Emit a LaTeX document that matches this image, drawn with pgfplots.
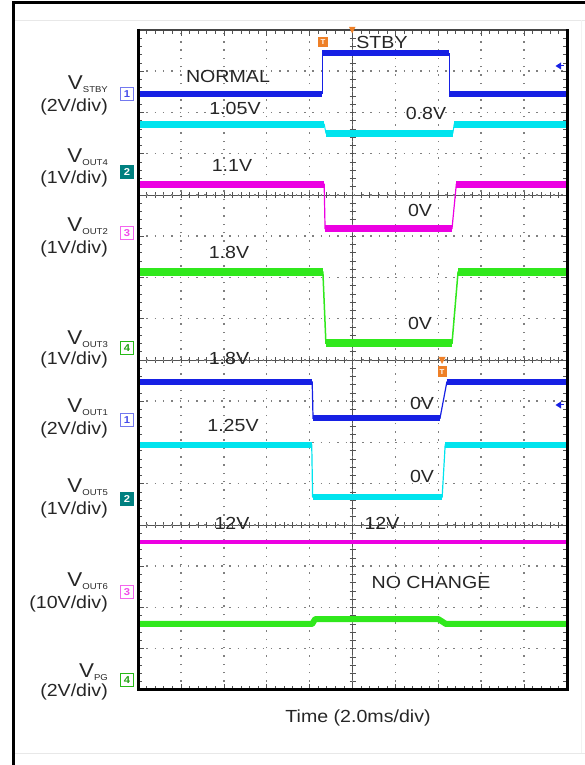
\documentclass[border=0pt]{standalone}
\usepackage{pgfplots}
\pgfplotsset{compat=1.18}
\usepackage{fontspec}
\setmainfont{Liberation Sans}[FakeStretch=1.12]
\definecolor{tblue}{RGB}{22,32,228}
\definecolor{tcyan}{RGB}{0,228,238}
\definecolor{tmag}{RGB}{236,0,226}
\definecolor{tgreen}{RGB}{48,232,28}
\definecolor{tteal}{RGB}{0,128,128}
\definecolor{torange}{RGB}{238,128,40}
\definecolor{txt}{RGB}{38,38,38}
\newcommand{\lab}[1]{{\fontsize{17.5}{20}\selectfont #1}}
\newcommand{\vlab}[1]{{\fontsize{20}{22}\selectfont V}\raisebox{-2.5pt}{\fontsize{8.5}{9}\selectfont #1}}
\begin{document}
\begin{tikzpicture}[x=1pt,y=1pt]
\useasboundingbox (0,0) rectangle (585,765);
% outer page frame
\draw[gray!18, line width=0.8pt] (14,745) -- (585,745);
\draw[gray!18, line width=0.8pt] (14,12) -- (585,12);
\draw[gray!10, line width=0.8pt] (581,12) -- (581,745);
\draw[black, line width=3pt] (13,0) -- (13,762) -- (585,762);
% centre lines of the graticule
\begin{scope}[gray!65!black, line width=0.6pt]
\foreach \yy in {240,405,570} {
  \draw (138,\yy) -- (567,\yy);
  \foreach \k in {1,...,49} { \draw (138+8.58*\k,\yy-3) -- (138+8.58*\k,\yy+3); }
}
\draw (352.5,75) -- (352.5,735);
\foreach \k in {1,...,79} { \draw (349.5,75+8.25*\k) -- (355.5,75+8.25*\k); }
\end{scope}
\begin{axis}[
  at={(138pt,75pt)}, anchor=south west,
  scale only axis, width=429pt, height=660pt,
  xmin=0, xmax=10, ymin=0, ymax=16,
  xtick={0,...,10}, ytick={0,...,16},
  minor x tick num=4, minor y tick num=4,
  xticklabels={}, yticklabels={},
  tick align=inside,
  major tick length=6pt, minor tick length=4pt,
  tick style={gray!65!black, line width=0.6pt},
  grid=major,
  major grid style={gray, line width=1.5pt, dash pattern=on 1.5pt off 6.8pt},
  axis line style={draw=none},
  unbounded coords=jump,
  clip=false,
]
% V_STBY (blue)
\addplot[tblue, line width=1pt] coordinates {(0,14.45) (4.29,14.45) (4.29,15.44) (7.25,15.44) (7.25,14.45) (10,14.45)};
\addplot[tblue, line width=6pt] coordinates {(0,14.45) (4.29,14.45) (4.29,nan) (4.29,15.44) (7.25,15.44) (7.25,nan) (7.25,14.45) (10,14.45)};
% V_OUT4 (cyan)
\addplot[tcyan, line width=1pt] coordinates {(0,13.72) (4.34,13.72) (4.38,13.50) (7.34,13.50) (7.37,13.72) (10,13.72)};
\addplot[tcyan, line width=7pt] coordinates {(0,13.72) (4.34,13.72) (4.36,nan) (4.38,13.50) (7.34,13.50) (7.35,nan) (7.37,13.72) (10,13.72)};
% V_OUT2 (magenta)
\addplot[tmag, line width=1.2pt] coordinates {(0,12.26) (4.34,12.26) (4.36,11.19) (7.32,11.19) (7.42,12.26) (10,12.26)};
\addplot[tmag, line width=7pt] coordinates {(0,12.26) (4.34,12.26) (4.35,nan) (4.36,11.19) (7.32,11.19) (7.35,nan) (7.42,12.26) (10,12.26)};
% V_OUT3 (green)
\addplot[tgreen, line width=1.5pt] coordinates {(0,10.13) (4.31,10.13) (4.38,8.41) (7.32,8.41) (7.46,10.13) (10,10.13)};
\addplot[tgreen, line width=7.5pt] coordinates {(0,10.13) (4.31,10.13) (4.35,nan) (4.38,8.41) (7.32,8.41) (7.40,nan) (7.46,10.13) (10,10.13)};
% V_OUT1 (blue)
\addplot[tblue, line width=1.2pt] coordinates {(0,7.47) (4.06,7.47) (4.08,6.59) (7.04,6.59) (7.20,7.47) (10,7.47)};
\addplot[tblue, line width=5.5pt] coordinates {(0,7.47) (4.06,7.47) (4.07,nan) (4.08,6.59) (7.04,6.59) (7.10,nan) (7.20,7.47) (10,7.47)};
% V_OUT5 (cyan)
\addplot[tcyan, line width=1.2pt] coordinates {(0,5.94) (4.05,5.94) (4.07,4.68) (7.09,4.68) (7.16,5.94) (10,5.94)};
\addplot[tcyan, line width=6.5pt] coordinates {(0,5.94) (4.05,5.94) (4.06,nan) (4.07,4.68) (7.09,4.68) (7.12,nan) (7.16,5.94) (10,5.94)};
% V_OUT6 (magenta)
\addplot[tmag, line width=4.5pt] coordinates {(0,3.59) (10,3.59)};
% V_PG (green)
\addplot[tgreen, line width=6pt, line join=round] coordinates {(0,1.60) (4.06,1.60) (4.13,1.72) (7.00,1.72) (7.18,1.60) (10,1.60)};
\end{axis}
% graticule frame
\draw[gray!55!black, line width=1.2pt] (138,735) -- (567,735);
\draw[black, line width=3pt, line join=miter] (138,736) -- (138,75) -- (567,75) -- (567,736);
% annotations inside the screen
\begin{scope}[every node/.style={inner sep=0pt, text=txt}]
\node at (228,689) {\lab{NORMAL}};
\node at (235,657) {\lab{1.05V}};
\node at (232,600) {\lab{1.1V}};
\node at (382,723) {\lab{STBY}};
\node at (426,652) {\lab{0.8V}};
\node at (420,555) {\lab{0V}};
\node at (229,513) {\lab{1.8V}};
\node at (420,442) {\lab{0V}};
\node at (229,407) {\lab{1.8V}};
\node at (422,362) {\lab{0V}};
\node at (233,340) {\lab{1.25V}};
\node at (422,289) {\lab{0V}};
\node at (232,242) {\lab{12V}};
\node at (382,242) {\lab{12V}};
\node at (431,183) {\lab{NO CHANGE}};
\node at (358,47) {\lab{Time (2.0ms/div)}};
% left channel labels
\node[anchor=base east] at (108,675) {\vlab{STBY}};
\node[anchor=base east] at (108,653) {\lab{(2V/div)}};
\node[anchor=base east] at (108,602) {\vlab{OUT4}};
\node[anchor=base east] at (108,581) {\lab{(1V/div)}};
\node[anchor=base east] at (108,533) {\vlab{OUT2}};
\node[anchor=base east] at (108,511) {\lab{(1V/div)}};
\node[anchor=base east] at (108,420) {\vlab{OUT3}};
\node[anchor=base east] at (108,400) {\lab{(1V/div)}};
\node[anchor=base east] at (108,352) {\vlab{OUT1}};
\node[anchor=base east] at (108,330) {\lab{(2V/div)}};
\node[anchor=base east] at (108,272) {\vlab{OUT5}};
\node[anchor=base east] at (108,250) {\lab{(1V/div)}};
\node[anchor=base east] at (108,178) {\vlab{OUT6}};
\node[anchor=base east] at (108,156) {\lab{(10V/div)}};
\node[anchor=base east] at (108,87) {\vlab{PG}};
\node[anchor=base east] at (108,68) {\lab{(2V/div)}};
\end{scope}
% channel markers
\begin{scope}[every node/.style={minimum width=12.5pt, minimum height=12.5pt, inner sep=0pt, line width=0.9pt, font=\fontsize{10}{10}\selectfont\bfseries}]
\node[draw=tblue!60, text=tblue!80, fill=white] at (127,671) {1};
\node[draw=tteal, fill=tteal, text=white] at (127,593) {2};
\node[draw=tmag!60, text=tmag!70, fill=white] at (127,532) {3};
\node[draw=tgreen!80!black, text=tgreen!70!black, fill=white] at (127,417) {4};
\node[draw=tblue!60, text=tblue!80, fill=white] at (127,345) {1};
\node[draw=tteal, fill=tteal, text=white] at (127,266) {2};
\node[draw=tmag!60, text=tmag!70, fill=white] at (127,173) {3};
\node[draw=tgreen!80!black, text=tgreen!70!black, fill=white] at (127,85) {4};
\end{scope}
% trigger markers
\node[fill=torange, text=white, minimum width=10pt, minimum height=10pt, inner sep=0pt, font=\fontsize{7}{7}\selectfont\bfseries] at (323,723) {T};
\fill[torange] (349,738) -- (355.5,738) -- (352.2,731.5) -- cycle;
\fill[torange] (438.5,408) -- (445.5,408) -- (442,401) -- cycle;
\node[fill=torange, text=white, minimum width=9pt, minimum height=11pt, inner sep=0pt, font=\fontsize{7}{7}\selectfont\bfseries] at (442,393) {T};
% level markers (right)
\fill[tblue] (555.5,699) -- (561,702.5) -- (561,695.5) -- cycle;
\draw[tblue, line width=1pt] (561,699) -- (564,699);
\fill[tblue] (555.5,360) -- (561,363.5) -- (561,356.5) -- cycle;
\draw[tblue, line width=1pt] (561,360) -- (564,360);
\end{tikzpicture}
\end{document}
